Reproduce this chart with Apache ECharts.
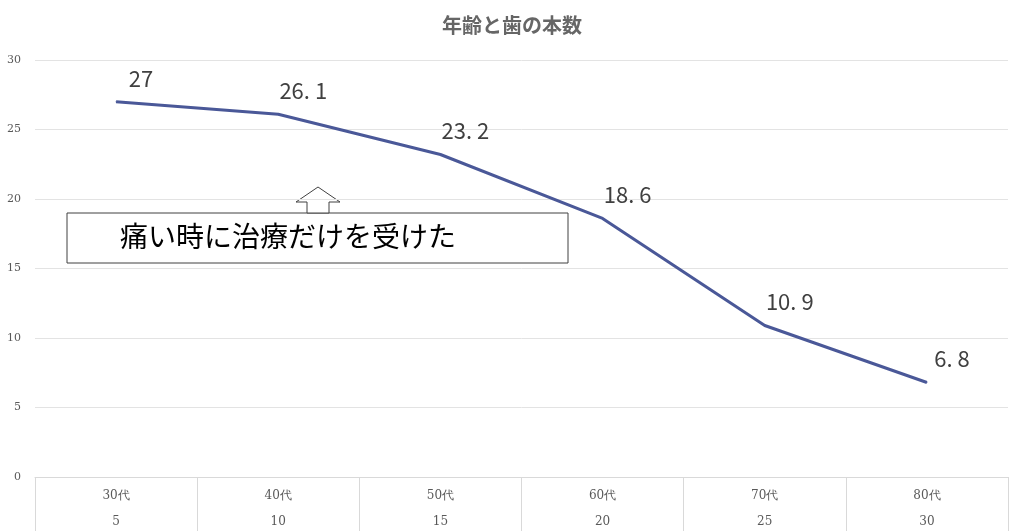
<!DOCTYPE html>
<html><head><meta charset="utf-8">
<script src="https://cdn.jsdelivr.net/npm/echarts@6/dist/echarts.min.js"></script>
<style>html,body{margin:0;background:#fff}#c{width:1024px;height:531px}</style>
</head><body><div id="c"></div>
<script>
const AGES = ["30代", "40代", "50代", "60代", "70代", "80代"];
const SUB = ["5", "10", "15", "20", "25", "30"];
const TEETH = [27, 26.1, 23.2, 18.6, 10.9, 6.8];
const NOTE = "痛い時に治療だけを受けた";

const chart = echarts.init(document.getElementById("c"));
chart.setOption({
  title: { text: "年齢と歯の本数", left: "center", top: 10,
    textStyle: { fontSize: 20, color: "#666", fontWeight: "bold", fontFamily: "Noto Sans CJK JP" } },
  grid: { left: 35, right: 16, top: 60, bottom: 54 },
  xAxis: {
    type: "category", data: AGES,
    axisLine: { lineStyle: { color: "#d9d9d9" } },
    axisTick: { show: true, interval: 0, length: 60, lineStyle: { color: "#d9d9d9" } },
    axisLabel: { interval: 0, margin: 12, lineHeight: 13, color: "#595959", fontSize: 12,
      fontFamily: "DejaVu Serif",
      formatter: (v, i) => v + "\n\n" + SUB[i] }
  },
  yAxis: {
    type: "value", min: 0, max: 30, interval: 5,
    axisLabel: { color: "#595959", fontSize: 11, fontFamily: "DejaVu Serif", margin: 14 },
    splitLine: { lineStyle: { color: "#e3e3e3" } }
  },
  series: [{
    type: "line", data: TEETH, symbol: "circle", symbolSize: 1, showSymbol: true,
    itemStyle: { color: "#4a5898" },
    lineStyle: { color: "#4a5898", width: 3 },
    label: { show: true, position: "top", distance: 8, offset: [25, -4], fontSize: 22,
      color: "#404040", fontFamily: "Noto Sans CJK JP",
      formatter: p => String(p.value).replace(".", ". ") }
  }],
  graphic: [
    { type: "rect", shape: { x: 67, y: 213, width: 501, height: 50 },
      style: { fill: "#fff", stroke: "#404040", lineWidth: 1 } },
    { type: "text", left: 120, top: 222,
      style: { text: NOTE, fontSize: 28, fill: "#000", fontFamily: "Noto Sans CJK JP" } },
    { type: "polygon",
      shape: { points: [[307, 213], [307, 202], [296, 202], [318, 187], [340, 202], [329, 202], [329, 213]] },
      style: { fill: "#fff", stroke: "#404040", lineWidth: 1 } }
  ]
});
</script></body></html>
